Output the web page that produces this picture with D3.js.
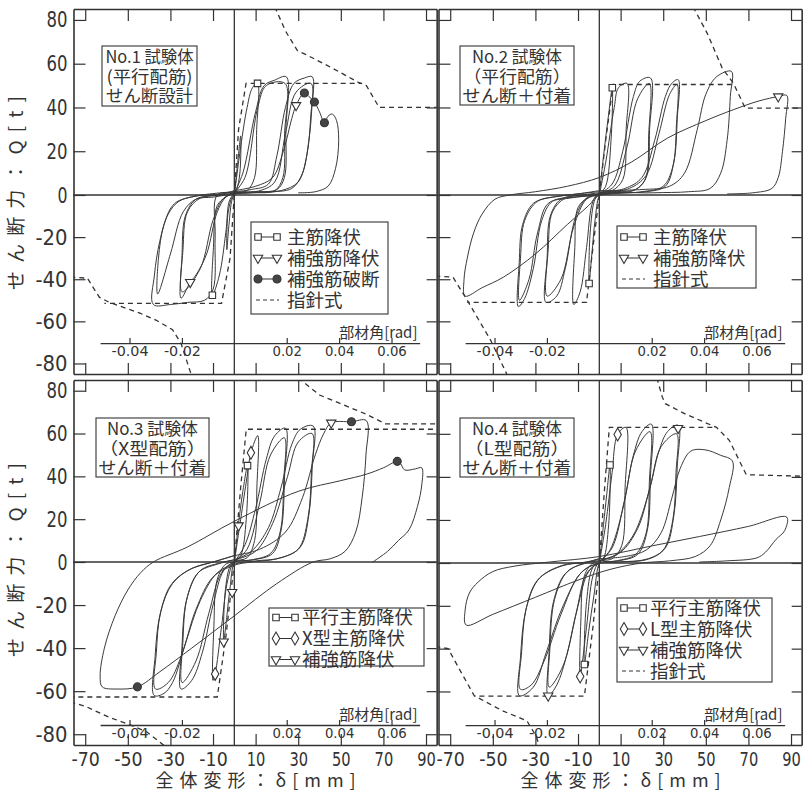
<!DOCTYPE html>
<html>
<head>
<meta charset="utf-8">
<script src="https://cdn.jsdelivr.net/npm/d3@7"></script>
<style>
  body { margin: 0; background: #fff; }
</style>
</head>
<body>
<script>
// ---- axis values ----
var deltaTicks = [-70, -50, -30, -10, 10, 30, 50, 70, 90];
var shearTicks = [-80, -60, -40, -20, 0, 20, 40, 60, 80];
var radTicks = [-0.04, -0.02, 0.02, 0.04, 0.06];
var memberLength = 1230;

// ---- panel texts ----
var titles1 = ["No.1 試験体", "(平行配筋)", "せん断設計"];
var titles2 = ["No.2 試験体", "（平行配筋）", "せん断＋付着"];
var titles3 = ["No.3 試験体", "（X型配筋）", "せん断＋付着"];
var titles4 = ["No.4 試験体", "（L型配筋）", "せん断＋付着"];

var legend1 = [["sq", "主筋降伏"], ["tri", "補強筋降伏"], ["dot", "補強筋破断"], ["dash", "指針式"]];
var legend2 = [["sq", "主筋降伏"], ["tri", "補強筋降伏"], ["dash", "指針式"]];
var legend3 = [["sq", "平行主筋降伏"], ["dia", "X型主筋降伏"], ["tri", "補強筋降伏"]];
var legend4 = [["sq", "平行主筋降伏"], ["dia", "L型主筋降伏"], ["tri", "補強筋降伏"], ["dash", "指針式"]];

// ---- hysteresis loops [δ mm, Q t] ----
var loops1 = [
  [[0,0],[1.5,14],[3,27],[2.6,10],[1,2],[-1,-2],[-2.5,-14],[-3.5,-26],[-3,-9],[-1,-1],[0,0]],
  [[0,0],[3,22],[6,40],[8.5,49],[10.9,51],[10.5,30],[9.5,8],[6,2],[1,1],[-2,-2],[-4,-18],[-7,-38],[-10.3,-47.6],[-9.8,-25],[-8,-5],[-4,-1],[0,1]],
  [[0,1],[4,10],[10,38],[14,50],[19,52.5],[24.4,54],[24.2,30],[23.5,8],[20,2.5],[10,1.5],[0,1],[-4,-1],[-8,-8],[-13,-28],[-18,-38],[-20.7,-41.4],[-25,-49],[-24.6,-30],[-23,-10],[-18,-2],[-8,0],[0,1.5]],
  [[0,1],[5,8],[11,40],[15,50],[23.8,51],[23.6,28],[22.8,8],[19,2],[8,1],[0,0.5],[-5,-1.5],[-10,-12],[-16,-35],[-24.5,-46],[-24.1,-26],[-22,-8],[-16,-1.5],[-6,0],[0,1]],
  [[0,1.5],[8,2.5],[16,5],[20,18],[24,40],[28,51],[33,53.5],[36.6,54],[36.4,40],[35,25],[32,10],[27,3],[15,1.5],[0,1],[-8,0],[-9,-20],[-10,-45],[-14,-50],[-22,-51],[-30,-52],[-38,-52],[-37.5,-38],[-35,-22],[-31,-9],[-26,-3],[-18,-0.5],[-6,0.5],[0,2]],
  [[0,1],[12,2],[19,6],[24,28],[29,47],[36,51],[35.8,35],[34,18],[30,6],[22,2],[8,1],[0,0.5],[-10,-1],[-18,-2],[-24,-8],[-30,-28],[-36,-47],[-35.6,-30],[-33,-14],[-28,-4],[-18,-0.5],[0,1.5]],
  [[0,2],[10,4],[18,8],[23,20],[27,35],[29,41],[32.9,46.6],[35,45],[37.6,42.5],[40,38],[42.3,33],[44,36],[46,37],[48,34],[49,25],[47.5,12],[44,4],[38,1.5],[30,1]]
];
var loops2 = [
  [[0,0],[2,18],[4,34],[6.1,49],[5.5,25],[3,4],[0,0],[-2,-12],[-3.5,-28],[-4.8,-42],[-4.3,-18],[-2,-2],[0,0]],
  [[0,0],[3,15],[7,40],[9,49],[13,51],[12.6,30],[11,7],[6,2],[0,1],[-3,-3],[-6,-25],[-9,-46],[-12,-52],[-11.5,-25],[-10,-6],[-5,-1],[0,0.5]],
  [[0,0.5],[6,5],[11,20],[16,45],[19,52],[24,53.5],[23.6,30],[22,8],[17,2.5],[8,1.5],[0,0.5],[-6,-1.5],[-11,-10],[-16,-35],[-20,-48],[-25,-51],[-24.5,-30],[-23,-10],[-18,-2],[-8,0],[0,1]],
  [[0,0.5],[7,4],[13,22],[18,44],[23.5,51],[23.2,28],[21.5,7],[16,2],[6,1],[0,0],[-6,-2],[-12,-15],[-18,-40],[-24.5,-48],[-24,-26],[-22,-8],[-16,-1.5],[-6,0],[0,0.5]],
  [[0,1],[12,3],[20,8],[26,25],[31,45],[34,51],[37,52.7],[36.6,35],[35,15],[31,4],[22,1.5],[8,1],[0,0],[-12,-1],[-22,-3],[-27,-12],[-31,-35],[-35,-49],[-38,-53],[-37.6,-32],[-36,-14],[-31,-4],[-22,-1],[-10,0.5],[0,2]],
  [[0,1],[14,3],[22,9],[28,28],[33,46],[36.5,50.5],[36.2,32],[34.5,13],[30,4],[20,1.5],[5,0.5],[0,0],[-14,-1.5],[-24,-4],[-29,-18],[-33,-40],[-37.5,-50],[-37,-30],[-35,-12],[-29,-3],[-18,-0.5],[0,1.5]],
  [[0,2],[20,2.5],[33,4],[40,10],[46,30],[50,46],[55,54],[62,56.5],[61.5,45],[60,25],[57,10],[52,3],[42,1.5],[25,1],[0,0],[-5,-5],[-15,-14],[-30,-28],[-45,-39],[-55,-44],[-63,-48],[-63.5,-40],[-62,-30],[-59,-18],[-55,-9],[-49,-2],[-42,0],[-30,1.5],[-15,4],[0,8],[15,15],[32,26],[50,34],[63,39],[75,43],[84,45],[88,45.5],[87.5,35],[86,20],[84,8],[81,3],[72,1],[60,0.5]]
];
var loops3 = [
  [[0,0],[2,18],[4,33],[6.2,45],[5.6,20],[3,3],[0,0],[-2,-12],[-3.5,-25],[-5,-37],[-4.3,-14],[-2,-2],[0,0]],
  [[0,0],[3,20],[6,40],[7.8,51],[11,59],[10.6,35],[9.5,10],[6,2],[0,0],[-3,-8],[-6,-30],[-9,-52],[-10,-55],[-9.6,-30],[-8,-8],[-4,-1],[0,0]],
  [[0,0],[5,8],[10,25],[15,48],[19,59],[24,62.5],[23.6,40],[22,15],[18,4],[9,1],[0,0],[-5,-4],[-10,-20],[-15,-42],[-20,-55],[-25,-59],[-24.6,-40],[-22.5,-18],[-17,-5],[-8,-1],[0,1]],
  [[0,0],[6,6],[12,28],[17,50],[23.5,58],[23.2,38],[21.5,14],[17,4],[8,1],[0,0],[-6,-5],[-12,-24],[-18,-46],[-24.5,-56],[-24.2,-38],[-22,-16],[-16,-4],[-7,-0.5],[0,1]],
  [[0,1],[8,5],[16,16],[22,35],[27,55],[31,62],[37,63.5],[36.6,45],[35,22],[31,7],[22,2],[10,0.5],[0,-1],[-8,-5],[-16,-18],[-23,-38],[-29,-56],[-33,-61],[-37.6,-62],[-37.2,-44],[-35,-25],[-30,-11],[-22,-4],[-10,0],[0,3]],
  [[0,1],[10,5],[18,18],[25,40],[30,56],[36.5,60],[36.2,42],[34.5,20],[30,6],[20,1.5],[8,0],[0,-1.5],[-10,-7],[-18,-22],[-25,-44],[-31,-56],[-37,-59],[-36.6,-42],[-34.5,-23],[-29,-10],[-20,-3],[-8,0.5],[0,3]],
  [[0,3],[12,6],[24,14],[32,30],[38,50],[42,60],[45.5,65],[55,65.5],[62,66],[61.8,50],[60,30],[57,14],[52,5],[45,1.5],[37,0],[20,-10],[0,-25],[-20,-40],[-35,-51],[-45.5,-58],[-55,-59],[-62,-58],[-63,-53],[-61,-40],[-56,-25],[-50,-13],[-44,-5],[-38,0],[-22,7],[0,19],[30,33],[50,38],[62,41],[70,44],[76.5,47],[78,46],[80,43],[85,43.5],[88,44],[88,36],[86,26],[82,15],[77,10],[72,5],[65,0]]
];
var loops4 = [
  [[0,0],[2,18],[3.5,32],[5,45.5],[4.4,18],[2,2],[0,0],[-2.5,-15],[-5,-32],[-7,-47.4],[-6,-18],[-3,-2],[0,0]],
  [[0,0],[3,18],[6,42],[8.6,59.7],[12.5,63],[12.1,35],[10.5,8],[6,2],[0,0.5],[-3,-6],[-6,-30],[-9,-53],[-8.7,-28],[-7,-6],[-3,0],[0,0.5]],
  [[0,0.5],[5,6],[11,25],[16,50],[20,61],[24.4,64.5],[24,40],[22.5,15],[18,4],[9,1],[0,0],[-5,-4],[-10,-20],[-15,-42],[-20,-57],[-24,-62],[-23.6,-42],[-21.5,-18],[-16,-5],[-7,0],[0,1]],
  [[0,0.5],[6,7],[12,30],[17,52],[23.8,61],[23.5,38],[22,14],[17,4],[8,1],[0,0],[-6,-5],[-11,-24],[-17,-48],[-23.5,-58],[-23.2,-40],[-21,-17],[-15,-4],[-6,0],[0,1]],
  [[0,1],[8,4],[16,13],[23,32],[28,52],[32,61],[37,64],[36.6,45],[35,22],[31,7],[23,2],[10,0.5],[0,0],[-8,-4],[-17,-20],[-25,-42],[-31,-58],[-37.5,-62],[-37,-44],[-34.5,-22],[-29,-8],[-18,-1.5],[-6,0.5],[0,2]],
  [[0,1],[10,5],[18,16],[24,36],[29,54],[36.2,60],[36,42],[34.5,20],[30,6],[22,1.5],[9,0.5],[0,0],[-9,-5],[-18,-24],[-26,-46],[-32,-57],[-37,-59],[-36.5,-42],[-34,-20],[-28,-7],[-17,-1],[-5,0.5],[0,2]],
  [[0,2],[12,3],[22,6],[29,14],[34,30],[38,44],[43,52],[50,52.5],[57,50],[62.5,47.4],[61,35],[57,20],[52,8],[45,3],[33,1],[20,0],[5,-3],[-10,-8],[-30,-16],[-50,-24],[-62.5,-29],[-63,-22],[-61,-14],[-57,-9],[-50,-4],[-40,-1.5],[-23,0.5],[0,3],[25,8],[47,12.3],[70,17],[88,21.3],[87,15],[83,11],[78,5],[74,2.4],[60,1],[47,0.5]]
];

// ---- 指針式 (dashed guideline) ----
var guide1 = [
  [[0,0],[2,30],[5.5,51],[60,51]],
  [[19,86],[24,75],[29.6,66],[34,64],[46,58],[58,51.6],[62,50],[68,40],[96,40]],
  [[0,0],[-2,-30],[-6,-51.5],[-61,-51.5]],
  [[-77,-39],[-69,-39.5],[-63.4,-48.5],[-58.7,-51],[-44.6,-56],[-36.6,-59.5],[-29,-64],[-25,-70.5],[-20,-86]]
];
var guide2 = [
  [[0,0],[3,25],[6.5,50.5],[63,50.5]],
  [[44,86],[50.6,74],[57.7,58],[63,51],[68.5,39.7],[96,39.7]],
  [[0,0],[-3,-25],[-6,-51],[-62,-51]],
  [[-77,-38.5],[-68.7,-39],[-62,-50],[-51,-69],[-43,-86]]
];
var guide3 = [
  [[0,0],[3,35],[5.6,62],[96,62]],
  [[30,86],[40,78],[62,69],[71,64.5],[96,64.5]],
  [[0,0],[-4,-35],[-8,-62.7],[-77,-62.7]],
  [[-77,-65],[-70,-67],[-59,-72],[-48,-76],[-41,-79],[-32,-86]]
];
var guide4 = [
  [[0,0],[2.5,35],[4.7,63],[55,63]],
  [[27,86],[29.6,77],[31,74],[40.8,69],[55,63],[61,57],[69,41],[96,40.3]],
  [[0,0],[-3,-30],[-7,-62.2],[-58.7,-62.2]],
  [[-77,-39],[-71,-40],[-64,-52.6],[-58.7,-62],[-45.5,-69],[-34,-73.7],[-29.6,-81],[-28,-86]]
];

// ---- event markers ----
var sq1 = [[10.9,51],[-10.3,-47.6]];
var tri1 = [[29,41],[-20.7,-41.4]];
var dot1 = [[32.9,46.6],[37.6,42.5],[42.3,33]];
var sq2 = [[6.1,49],[-4.8,-42]];
var tri2 = [[84,45]];
var sq3 = [[6.2,45]];
var dia3 = [[7.8,51],[-9,-52]];
var tri3 = [[45.5,65],[-5,-37],[2,17],[-1,-14]];
var dot3 = [[55,65.5],[76.5,47],[-45.5,-58]];
var sq4 = [[5,45.5],[-7,-47.4]];
var dia4 = [[8.6,59.7],[-9,-53]];
var tri4 = [[37,62.6],[-24,-62]];

// ---- layout ----
var ink = "#333";
var jp = "'Noto Sans CJK JP', 'Noto Sans', sans-serif";
var num = "'DejaVu Sans', sans-serif";
var xDomain = [-75.5, 95];
var pxPerMm = 2.13;

var panels = [
  {id: 1, loops: loops1, guide: guide1, sq: sq1, tri: tri1, dot: dot1, dia: [], titles: titles1, legend: legend1,
   left: 73.5, top: 9, zeroY: 195, bottom: 374, showY: true, showX: false, radQ: -70.3,
   tbox: [28.5, 37, 95, 60, 88, 86, 87], lbox: [177.5, 213, 137, 92, 15, 36]},
  {id: 2, loops: loops2, guide: guide2, sq: sq2, tri: tri2, dot: [], dia: [], titles: titles2, legend: legend2,
   left: 438.5, top: 9, zeroY: 195, bottom: 374, showY: false, showX: false, radQ: -70.3,
   tbox: [21.5, 37, 114, 59, 90, 107, 109], lbox: [178.5, 217, 139, 62, 11, 36]},
  {id: 3, loops: loops3, guide: guide3, sq: sq3, tri: tri3, dot: dot3, dia: dia3, titles: titles3, legend: legend3,
   left: 73.5, top: 380, zeroY: 562, bottom: 745, showY: true, showX: true, radQ: -75.7,
   tbox: [22.5, 38, 113, 59, 91, 107, 108], lbox: [195.5, 228, 155, 58, 9.5, 33]},
  {id: 4, loops: loops4, guide: guide4, sq: sq4, tri: tri4, dot: [], dia: dia4, titles: titles4, legend: legend4,
   left: 438.5, top: 380, zeroY: 563, bottom: 745, showY: false, showX: true, radQ: -75.7,
   tbox: [21.5, 38, 114, 59, 90, 105, 109], lbox: [178.5, 218, 155, 84, 10, 33]}
];

var svg = d3.select("body").append("svg")
  .attr("width", 806)
  .attr("height", 792)
  .style("background", "#fff");

function styleAxis(sel, size, family, charW, width) {
  sel.style("color", ink);
  sel.select(".domain").attr("stroke-width", width);
  sel.selectAll(".tick line").attr("stroke-width", 1.2);
  sel.selectAll("text")
    .attr("font-size", size)
    .attr("font-family", family)
    .attr("fill", ink)
    .each(function() {
      var t = d3.select(this), s = t.text();
      if (s) t.attr("textLength", s.length * charW - 1).attr("lengthAdjust", "spacingAndGlyphs");
    });
}

var symbols = {
  sq: d3.symbol().type(d3.symbolSquare).size(42),
  tri: d3.symbol().type(d3.symbolTriangle).size(38),
  dia: d3.symbol().type(d3.symbolDiamond).size(48),
  dot: d3.symbol().type(d3.symbolCircle).size(50)
};

function drawMarker(g, kind, px, py) {
  g.append("path")
    .attr("d", symbols[kind]())
    .attr("transform", "translate(" + px + "," + py + ")" + (kind == "tri" ? " rotate(180)" : ""))
    .attr("fill", kind == "dot" ? "#444" : "#fff")
    .attr("stroke", ink)
    .attr("stroke-width", 1.1);
}

panels.forEach(function(p) {
  var x = d3.scaleLinear().domain(xDomain).range([p.left, p.left + (xDomain[1] - xDomain[0]) * pxPerMm]);
  var y = d3.scaleLinear().domain([-85, 0, 85]).range([p.bottom, p.zeroY, p.top]);
  var right = x(xDomain[1]);
  var g = svg.append("g");

  svg.append("clipPath").attr("id", "clip" + p.id)
    .append("rect")
    .attr("x", p.left).attr("y", p.top)
    .attr("width", right - p.left).attr("height", p.bottom - p.top);

  // zero lines
  g.append("line").attr("x1", p.left).attr("x2", right).attr("y1", y(0)).attr("y2", y(0))
    .attr("stroke", ink).attr("stroke-width", 1.3);
  g.append("line").attr("x1", x(0)).attr("x2", x(0)).attr("y1", p.top).attr("y2", p.bottom)
    .attr("stroke", ink).attr("stroke-width", 1.3);

  // frame axes, ticks pointing inward
  g.append("g").attr("transform", "translate(" + p.left + ",0)")
    .call(d3.axisLeft(y).tickValues(shearTicks).tickSizeInner(-12).tickSizeOuter(0).tickPadding(6)
      .tickFormat(p.showY ? function(d) { return String(d); } : ""))
    .call(styleAxis, 22, num, 11, 1.6);
  g.append("g").attr("transform", "translate(" + right + ",0)")
    .call(d3.axisRight(y).tickValues(shearTicks).tickSizeInner(-10).tickSizeOuter(0).tickFormat(""))
    .call(styleAxis, 10, num, 8, 1.6);
  g.append("g").attr("transform", "translate(0," + p.top + ")")
    .call(d3.axisTop(x).tickValues(deltaTicks).tickSizeInner(-12).tickSizeOuter(0).tickFormat(""))
    .call(styleAxis, 10, num, 8, 1.6);
  g.append("g").attr("transform", "translate(0," + p.bottom + ")")
    .call(d3.axisBottom(x).tickValues(deltaTicks).tickSizeInner(-11).tickSizeOuter(0).tickPadding(7)
      .tickFormat(p.showX ? function(d) { return String(d); } : ""))
    .call(styleAxis, 20, num, 9.8, 1.6);

  // member angle axis
  var radScale = d3.scaleLinear()
    .domain([-63 / memberLength, 87 / memberLength])
    .range([x(-63), x(87)]);
  var radY = y(p.radQ);
  g.append("g").attr("transform", "translate(0," + radY + ")")
    .call(d3.axisBottom(radScale).tickValues(radTicks).tickSizeInner(-5).tickSizeOuter(0).tickPadding(3)
      .tickFormat(function(d) { return d.toFixed(2); }))
    .call(styleAxis, 14, num, 7.6, 1.3);
  g.append("text")
    .attr("x", x(86)).attr("y", radY - 5)
    .attr("text-anchor", "end")
    .attr("font-family", jp).attr("font-size", 15).attr("fill", ink)
    .text("部材角[rad]");

  var plot = g.append("g").attr("clip-path", "url(#clip" + p.id + ")");

  // guideline
  var gl = d3.line().x(function(d) { return x(d[0]); }).y(function(d) { return y(d[1]); });
  plot.selectAll("path.guide").data(p.guide).enter().append("path")
    .attr("class", "guide")
    .attr("d", gl)
    .attr("fill", "none").attr("stroke", ink).attr("stroke-width", 1.3)
    .attr("stroke-dasharray", "5,4");

  // hysteresis curve
  var hl = d3.line().x(function(d) { return x(d[0]); }).y(function(d) { return y(d[1]); })
    .curve(d3.curveCatmullRom.alpha(0.5));
  plot.selectAll("path.loop").data(p.loops).enter().append("path")
    .attr("class", "loop")
    .attr("d", hl)
    .attr("fill", "none").attr("stroke", "#3a3a3a").attr("stroke-width", 1);

  // markers
  [["sq", p.sq], ["tri", p.tri], ["dia", p.dia], ["dot", p.dot]].forEach(function(m) {
    m[1].forEach(function(d) { drawMarker(plot, m[0], x(d[0]), y(d[1])); });
  });

  // title box
  var tb = p.tbox;
  var bx = p.left + tb[0], by = p.top + tb[1];
  g.append("rect").attr("x", bx).attr("y", by).attr("width", tb[2]).attr("height", tb[3])
    .attr("fill", "#fff").attr("stroke", ink).attr("stroke-width", 1.1);
  p.titles.forEach(function(t, i) {
    g.append("text")
      .attr("x", bx + tb[2] / 2).attr("y", by + 11 + i * 19.5)
      .attr("dy", "0.36em")
      .attr("text-anchor", "middle")
      .attr("font-family", jp).attr("font-size", 17).attr("fill", ink)
      .attr("textLength", tb[4 + i]).attr("lengthAdjust", "spacingAndGlyphs")
      .text(t);
  });

  // legend
  var lb = p.lbox;
  var lx = p.left + lb[0], ly = p.top + lb[1];
  g.append("rect").attr("x", lx).attr("y", ly).attr("width", lb[2]).attr("height", lb[3])
    .attr("fill", "#fff").attr("stroke", ink).attr("stroke-width", 1.1);
  p.legend.forEach(function(item, i) {
    var ry = ly + lb[4] + i * 21;
    if (item[0] == "dash") {
      g.append("line").attr("x1", lx + 5).attr("x2", lx + 28).attr("y1", ry).attr("y2", ry)
        .attr("stroke", ink).attr("stroke-width", 1.2).attr("stroke-dasharray", "4,3");
    } else {
      g.append("line").attr("x1", lx + 7).attr("x2", lx + 26).attr("y1", ry).attr("y2", ry)
        .attr("stroke", ink).attr("stroke-width", 1);
      drawMarker(g, item[0], lx + 7, ry);
      drawMarker(g, item[0], lx + 26, ry);
    }
    g.append("text")
      .attr("x", lx + lb[5]).attr("y", ry).attr("dy", "0.36em")
      .attr("font-family", jp).attr("font-size", 18.5).attr("fill", ink)
      .text(item[1]);
  });

  // axis titles
  if (p.showY) {
    g.append("text")
      .attr("transform", "translate(16," + (y(0) - 2) + ") rotate(-90)")
      .attr("text-anchor", "middle").attr("dy", "0.36em")
      .attr("font-family", jp).attr("font-size", 19).attr("fill", ink)
      .attr("textLength", 194).attr("lengthAdjust", "spacing")
      .text("せん断力：Q[t]");
  }
  if (p.showX) {
    g.append("text")
      .attr("x", x(10)).attr("y", 787)
      .attr("text-anchor", "middle")
      .attr("font-family", jp).attr("font-size", 18).attr("fill", ink)
      .attr("textLength", 200).attr("lengthAdjust", "spacing")
      .text("全体変形：δ[mm]");
  }
});
</script>
</body>
</html>
